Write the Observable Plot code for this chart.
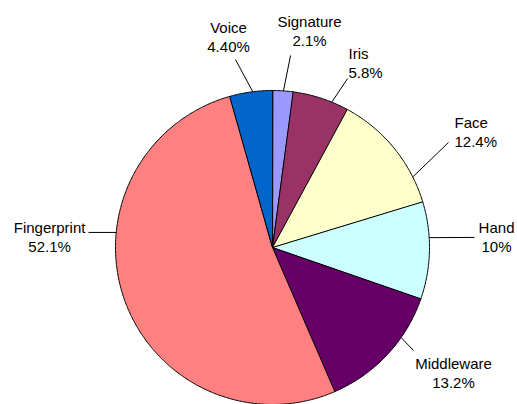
<!DOCTYPE html>
<html>
<head>
<meta charset="utf-8">
<script src="https://cdn.jsdelivr.net/npm/d3@7"></script>
<script src="https://cdn.jsdelivr.net/npm/@observablehq/plot@0.6"></script>
<style>
  html, body { margin: 0; padding: 0; background: #fff; }
  #chart svg { display: block; }
</style>
</head>
<body>
<div id="chart"></div>
<script>
// ---- data ----
const categories = ["Signature", "Iris", "Face", "Hand", "Middleware", "Fingerprint", "Voice"];
const shares = [2.1, 5.8, 12.4, 10, 13.2, 52.1, 4.4];
const shareLabels = ["2.1%", "5.8%", "12.4%", "10%", "13.2%", "52.1%", "4.40%"];
const colors = ["#9999FF", "#993366", "#FFFFCC", "#CCFFFF", "#660066", "#FF8080", "#0066CC"];

// ---- label layout (pie-radius units, angle clockwise from 12 o'clock) ----
const leaderAngle = [4, 22.2, 63.3, 86.4, 125, 275.5, 352.8];
const leaderEnd = [[0.115, 1.223], [0.478, 1.076], [1.121, 0.669], [1.287, 0.064], [0.898, -0.656], [-1.172, 0.096], [-0.236, 1.197]];
const labelPos = [[0.236, 1.382], [0.484, 1.176], [1.159, 0.739], [1.427, 0.070], [1.153, -0.796], [-1.420, 0.070], [-0.280, 1.347]];
const labelAlign = ["middle", "start", "start", "middle", "middle", "middle", "middle"];

// ---- geometry ----
const W = 517, H = 404, CX = 272, CY = 247, R = 157;
const rad = Math.PI / 180;

const arcs = d3.pie().sort(null).value(d => d)(shares);
const slices = arcs.map((a, i) => {
  const pts = [{x: 0, y: 0}];
  const n = Math.max(2, Math.ceil((a.endAngle - a.startAngle) / (0.5 * rad)));
  for (let k = 0; k <= n; k++) {
    const t = a.startAngle + (a.endAngle - a.startAngle) * k / n;
    pts.push({x: Math.sin(t), y: Math.cos(t)});
  }
  return {name: categories[i], color: colors[i], pts};
});

const leaders = categories.map((c, i) => ({
  name: c,
  x1: Math.sin(leaderAngle[i] * rad), y1: Math.cos(leaderAngle[i] * rad),
  x2: leaderEnd[i][0], y2: leaderEnd[i][1]
}));

const labels = categories.map((c, i) => ({
  text: c + "\n" + shareLabels[i],
  x: labelPos[i][0], y: labelPos[i][1], align: labelAlign[i]
}));

const textOpts = {
  x: "x", y: "y", text: "text",
  fontSize: 15, lineHeight: 1.27, fill: "#000",
  fontFamily: "'Liberation Sans', Arial, sans-serif"
};

const chart = Plot.plot({
  width: W, height: H,
  margin: 0,
  style: {background: "#fff", fontFamily: "'Liberation Sans', Arial, sans-serif"},
  x: {domain: [-CX / R, (W - CX) / R], axis: null},
  y: {domain: [-(H - CY) / R, CY / R], axis: null},
  marks: [
    ...slices.map(s => Plot.line(s.pts, {
      x: "x", y: "y", curve: "linear-closed",
      fill: s.color, stroke: "#000", strokeWidth: 1, strokeLinejoin: "round"
    })),
    Plot.link(leaders, {x1: "x1", y1: "y1", x2: "x2", y2: "y2", stroke: "#000", strokeWidth: 1}),
    Plot.text(labels.filter(d => d.align === "middle"), {...textOpts, textAnchor: "middle"}),
    Plot.text(labels.filter(d => d.align === "start"), {...textOpts, textAnchor: "start"})
  ]
});

document.getElementById("chart").appendChild(chart);
</script>
</body>
</html>
